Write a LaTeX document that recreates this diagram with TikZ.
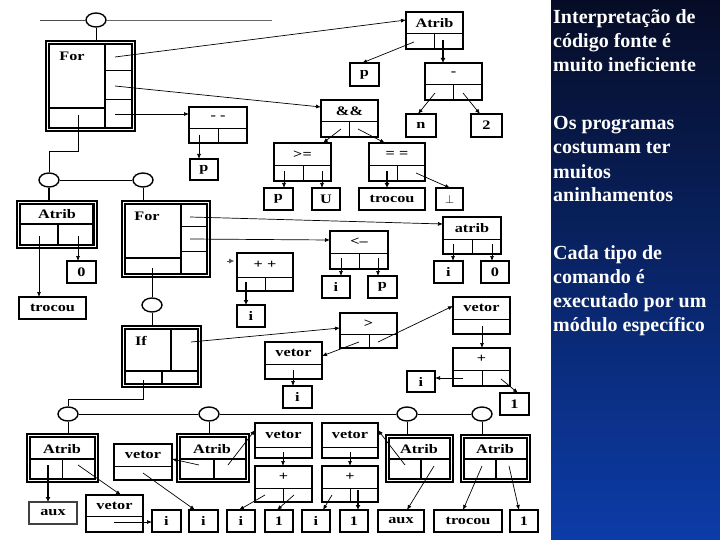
\documentclass[tikz,border=0pt]{standalone}
\usepackage{fontspec}
\setmainfont{Liberation Serif}
\newfontfamily\labfont[FakeStretch=1.25]{Liberation Serif}
\usetikzlibrary{arrows.meta,shapes.geometric,calc}
\newcommand{\labsty}{\labfont\bfseries\fontsize{13}{13}\selectfont}
\newcommand{\bx}[7][]{\pgfmathsetmacro\mybw{#5-#3}\pgfmathsetmacro\mybh{#6-#4}%
  \node[bx,minimum width=\mybw pt,minimum height=\mybh pt,#1] (#2) at ({(#3+#5)/2},{(#4+#6)/2}) {#7};}
\newcommand{\opbox}[8]{\bx{#1}{#2}{#3}{#4}{#5}{}%
  \draw[dv] (#2,#6) -- (#4,#6);\draw[dv] (#7,#6) -- (#7,#5);%
  \node[lab] (#1t) at ({(#2+#4)/2},{(#3+#6)/2}) {#8};}
\newcommand{\vecbox}[7]{\bx{#1}{#2}{#3}{#4}{#5}{}%
  \draw[dv] (#2,#6) -- (#4,#6);%
  \node[lab] (#1t) at ({(#2+#4)/2},{(#3+#6)/2}) {#7};}
\newcommand{\dbox}[5]{\bx[dbl]{#1}{#2}{#3}{#4}{#5}{}%
  \draw[inn] ($(#1.north west)+(3,3)$) rectangle ($(#1.south east)+(-3,-3)$);}
\begin{document}
\begin{tikzpicture}[x=1pt,y=-1pt,
  bx/.style={draw,line width=1.5pt,inner sep=0pt,outer sep=0pt,font=\labsty},
  dbl/.style={line width=2pt},
  inn/.style={line width=1.2pt},
  dv/.style={line width=1pt},
  thk/.style={line width=2pt},
  lab/.style={font=\labsty,inner sep=0pt},
  ln/.style={line width=0.9pt},
  ar/.style={-{Latex[length=5pt,width=4pt]},line width=0.7pt},
  tar/.style={-{Latex[length=5pt,width=5pt]},line width=1.6pt},
  ell/.style={ellipse,draw,line width=1.4pt,minimum width=20pt,minimum height=14pt,inner sep=0pt,fill=white},
  ptxt/.style={font=\bfseries\fontsize{20}{24}\selectfont,text=white,align=left,inner sep=0pt,anchor=north west}]
\useasboundingbox (0,0) rectangle (720,540);
\fill[white] (0,0) rectangle (720,540);
\shade[top color={rgb,255:red,6;green,12;blue,38},middle color={rgb,255:red,10;green,48;blue,148},bottom color={rgb,255:red,12;green,60;blue,168}] (551,0) rectangle (720,540);
\node[ptxt] (t1) at (553,7) {\strut Interpretação de\\código fonte é\\muito ineficiente};
\node[ptxt] (t2) at (553,113) {\strut Os programas\\costumam ter\\muitos\\aninhamentos};
\node[ptxt] (t3) at (553,242) {\strut Cada tipo de\\comando é\\executado por um\\módulo específico};

% ---------- top For ----------
\node[ell] (e1) at (96,20) {};
\coordinate (tl) at (40,20); \coordinate (tr) at (272,20);
\draw[ln,black!70] (tl) -- (e1); \draw[ln,black!60] (e1) -- (tr);
\dbox{for1}{46}{41}{135}{131}
\draw[thk] (105,43) -- (105,129);
\draw[dv] (105,71) -- (133,71); \draw[dv] (105,100) -- (133,100);
\draw[thk] (49,108) -- (105,108);
\node[lab] (for1t) at (72,56) {For};
\draw[ln] (e1) -- (e1 |- for1.north);

\opbox{atrib1}{406}{12}{463}{49}{34}{434}{Atrib}
\bx{p1}{350}{63}{379}{86}{p}
\opbox{minus}{425}{63}{482}{100}{85}{453}{-}
\bx{n1}{406}{114}{436}{137}{n}
\bx{two}{471}{114}{502}{137}{2}
\opbox{and}{321}{100}{378}{137}{122}{349}{\&\&}
\opbox{ge}{274}{143}{331}{181}{166}{303}{>=}
\opbox{eq}{369}{143}{425}{181}{166}{397}{= =}
\bx{p2}{264}{188}{293}{210}{p}
\bx{u1}{312}{188}{340}{210}{U}
\bx{troc1}{359}{188}{425}{210}{trocou}
\bx{bot1}{436}{188}{463}{210}{$\perp$}
\opbox{mm}{189}{107}{247}{143}{129}{218}{- -}
\bx{p3}{190}{159}{218}{180}{p}

\coordinate (f1a) at (115,57); \coordinate (f1b) at (115,86);
\coordinate (f1c) at (115,114); \coordinate (f1d) at (78,115);
\draw[ar] (f1a) -- ($(atrib1.north west)+(0,8)$);
\draw[ar] (f1b) -- ($(and.north west)+(0,7)$);
\draw[ar] (f1c) -- ($(mm.north west)+(0,7)$);
\coordinate (a1l) at (414,42); \coordinate (a1r) at (443,40);
\draw[ar] (a1l) -- ($(p1.north west)+(12,0)$);
\draw[tar] (a1r) -- (a1r |- minus.north);
\coordinate (m1l) at (435,93); \coordinate (m1r) at (463,93);
\draw[ar] (m1l) -- ($(n1.north west)+(12,0)$);
\draw[ar] (m1r) -- ($(two.north west)+(9,0)$);
\coordinate (andl) at (341,129); \coordinate (andr) at (358,129);
\draw[ar] (andl) -- ($(ge.north west)+(49,0)$);
\draw[ar] (andr) -- ($(eq.north west)+(16,0)$);
\coordinate (gel) at (284,171); \coordinate (ger) at (322,171);
\draw[ar] (gel) -- (gel |- p2.north);
\draw[ar] (ger) -- (ger |- u1.north);
\coordinate (eql) at (387,171); \coordinate (eqr) at (416,173);
\draw[tar] (eql) -- (eql |- troc1.north);
\draw[ar] (eqr) -- ($(bot1.north west)+(14,0)$);
\coordinate (mml) at (199,135);
\draw[ar] (mml) -- (mml |- p3.north);

% ---------- second row ----------
\node[ell] (e2) at (49,180) {};
\node[ell] (e3) at (143,180) {};
\coordinate (k1) at (78,151);
\draw[ln] (f1d) -- (k1) -| (e2);
\draw[ln] (e2) -- (e3);

\dbox{atrib2}{17}{201}{97}{248}
\draw[thk] (21,224) -- (95,224); \draw[thk] (58,224) -- (58,246); \draw[thk] (93,204) -- (93,246);
\node[lab] (atrib2t) at (57,214) {Atrib};
\draw[thk] (e2) -- (e2 |- atrib2.north);
\bx{troc2}{19}{297}{86}{319}{trocou}
\bx{zero1}{67}{261}{96}{283}{0}
\coordinate (a2l) at (39,236); \coordinate (a2r) at (78,236);
\draw[ar] (a2l) -- (a2l |- troc2.north);
\draw[ar] (a2r) -- (a2r |- zero1.north);

\dbox{for2}{122}{201}{210}{277}
\draw[thk] (181,203) -- (181,275);
\draw[dv] (181,227) -- (208,227); \draw[dv] (181,251) -- (208,251);
\draw[thk] (124,258) -- (181,258);
\node[lab] (for2t) at (147,216) {For};
\draw[ln] (e3) -- (e3 |- for2.north);
\coordinate (f2a) at (190,217); \coordinate (f2b) at (190,239); \coordinate (f2c) at (152,268);

\opbox{atrib3}{443}{217}{501}{254}{239}{472}{atrib}
\draw[ar] (f2a) -- ($(atrib3.north west)+(0,7)$);
\bx{i1}{434}{261}{463}{283}{i}
\bx{zero2}{481}{261}{509}{283}{0}
\coordinate (a3l) at (453,244); \coordinate (a3r) at (492,244);
\draw[ar] (a3l) -- (a3l |- i1.north);
\draw[ar] (a3r) -- (a3r |- zero2.north);

\opbox{lt}{330}{231}{388}{269}{253}{359}{<–}
\draw[ar] (f2b) -- ($(lt.north west)+(0,9)$);
\bx{i2}{322}{276}{350}{298}{i}
\bx{p4}{368}{276}{397}{298}{p}
\coordinate (ltl) at (341,258); \coordinate (ltr) at (378,258);
\draw[ar] (ltl) -- (ltl |- i2.north);
\draw[ar] (ltr) -- (ltr |- p4.north);

\opbox{pp}{237}{253}{293}{291}{277}{265}{+ +}
\coordinate (ppa) at (227,261); \coordinate (ppb) at (234,261);
\draw[-{Latex[length=5pt,width=5pt]},line width=0.5pt,black!70] (ppa) -- (ppb);
\bx{i3}{237}{305}{265}{327}{i}
\coordinate (ppl) at (246,282);
\draw[tar] (ppl) -- (ppl |- i3.north);

% ---------- If ----------
\node[ell] (e4) at (152,305) {};
\draw[ln] (f2c) -- (e4);
\dbox{ifb}{122}{326}{201}{387}
\draw[thk] (171,328) -- (171,371); \draw[thk] (124,371) -- (199,371); \draw[thk] (162,371) -- (162,385);
\node[lab] (ifbt) at (141,341) {If};
\draw[ln] (e4) -- (e4 |- ifb.north);
\coordinate (if1) at (191,342); \coordinate (if2) at (143,380);

\opbox{gt}{340}{313}{397}{348}{334}{369}{>}
\draw[ar] (if1) -- ($(gt.north west)+(0,15)$);
\vecbox{vet1}{265}{342}{322}{379}{364}{vetor}
\coordinate (gtl) at (359,342); \coordinate (gtr) at (378,342);
\draw[ar] (gtl) -- ($(vet1.north east)+(0,14)$);
\bx{i4}{283}{386}{312}{408}{i}
\coordinate (v1b) at (293,370);
\draw[ar] (v1b) -- (v1b |- i4.north);
\vecbox{vet2}{453}{297}{510}{334}{319}{vetor}
\draw[ar] (gtr) -- ($(vet2.north west)+(0,9)$);
\opbox{plus1}{453}{348}{510}{386}{370}{482}{+}
\coordinate (v2b) at (482,326);
\draw[ar] (v2b) -- (v2b |- plus1.north);
\bx{i5}{407}{371}{435}{392}{i}
\bx{one1}{500}{393}{529}{415}{1}
\coordinate (p1l) at (463,378); \coordinate (p1r) at (501,379);
\draw[ar] (p1l) -- (p1l -| i5.east);
\draw[ar] (p1r) -- ($(one1.north west)+(18,0)$);

% ---------- bottom row ----------
\node[ell] (e5) at (68,414) {};
\node[ell] (e6) at (209,414) {};
\node[ell] (e7) at (407,414) {};
\node[ell] (e8) at (482,414) {};
\coordinate (k2) at (143,399);
\draw[ln] (if2) -- (k2) -| (e5);
\draw[ln] (e5) -- (e6); \draw[ln] (e6) -- (e7); \draw[ln] (e7) -- (e8);

\dbox{atribA}{27}{434}{98}{482}
\draw[thk] (30,459) -- (95,459); \draw[dv] (62,459) -- (62,479);
\node[lab] (atribAt) at (62,449) {Atrib};
\draw[ln] (e5) -- (e5 |- atribA.north);
\bx[draw=black!75]{aux1}{29}{502}{77}{524}{aux}
\coordinate (aAl) at (48,465); \coordinate (aAr) at (78,465);
\draw[tar] (aAl) -- (aAl |- aux1.north);
\vecbox{vetA}{86}{495}{143}{532}{516}{vetor}
\draw[ar] (aAr) -- ($(vetA.north west)+(35,0)$);
\bx{iA}{152}{510}{181}{532}{i}
\coordinate (vAb) at (114,522);
\draw[ar] (vAb) -- (vAb -| iA.west);

\vecbox{vetB}{114}{444}{172}{480}{466}{vetor}
\bx{iB}{189}{510}{218}{532}{i}
\coordinate (vBb) at (143,473);
\draw[ar] (vBb) -- ($(iB.north west)+(6,0)$);
\dbox{atribB}{177}{434}{249}{482}
\draw[thk] (180,459) -- (246,459); \draw[thk] (214,459) -- (214,479);
\node[lab] (atribBt) at (212,449) {Atrib};
\draw[ln] (e6) -- (e6 |- atribB.north);
\coordinate (aBl) at (199,465); \coordinate (aBr) at (228,465);
\draw[ar] (aBl) -- ($(vetB.north east)+(0,15)$);

\vecbox{vetC}{255}{423}{312}{458}{447}{vetor}
\draw[ar] (aBr) -- ($(vetC.north west)+(0,7)$);
\opbox{plusC}{255}{466}{312}{502}{488}{283}{+}
\coordinate (vCb) at (283,452);
\draw[ar] (vCb) -- (vCb |- plusC.north);
\bx{iC}{227}{510}{255}{532}{i}
\bx{oneC}{265}{510}{293}{532}{1}
\coordinate (pCl) at (265,495); \coordinate (pCr) at (294,495);
\draw[ar] (pCl) -- ($(iC.north west)+(12,0)$);
\draw[ar] (pCr) -- ($(oneC.north west)+(12,0)$);

\vecbox{vetD}{322}{423}{378}{458}{447}{vetor}
\opbox{plusD}{322}{466}{378}{502}{488}{350}{+}
\coordinate (vDb) at (350,452);
\draw[ar] (vDb) -- (vDb |- plusD.north);
\bx{iD}{302}{510}{330}{532}{i}
\bx{oneD}{340}{510}{368}{532}{1}
\coordinate (pDl) at (332,495); \coordinate (pDr) at (358,490);
\draw[ar] (pDl) -- ($(iD.north west)+(21,0)$);
\draw[tar] (pDr) -- (pDr |- oneD.north);

\dbox{atribC}{386}{435}{453}{482}
\draw[thk] (389,459) -- (450,459); \draw[thk] (421,459) -- (421,479);
\node[lab] (atribCt) at (419,449) {Atrib};
\draw[ln] (e7) -- (e7 |- atribC.north);
\coordinate (aCl) at (405,465); \coordinate (aCr) at (434,466);
\draw[ar] (aCl) -- ($(vetD.north east)+(0,7)$);
\bx{auxC}{378}{510}{424}{532}{aux}
\draw[ar] (aCr) -- ($(auxC.north west)+(29,0)$);

\dbox{atribD}{461}{435}{530}{482}
\draw[thk] (464,459) -- (527,459); \draw[thk] (496,459) -- (496,479);
\node[lab] (atribDt) at (495,449) {Atrib};
\draw[ln] (e8) -- (e8 |- atribD.north);
\bx{trocD}{434}{510}{502}{532}{trocou}
\bx{oneE}{510}{510}{538}{532}{1}
\coordinate (aDl) at (482,466); \coordinate (aDr) at (509,466);
\draw[ar] (aDl) -- ($(trocD.north west)+(29,0)$);
\draw[ar] (aDr) -- ($(oneE.north west)+(9,0)$);
\end{tikzpicture}
\end{document}
